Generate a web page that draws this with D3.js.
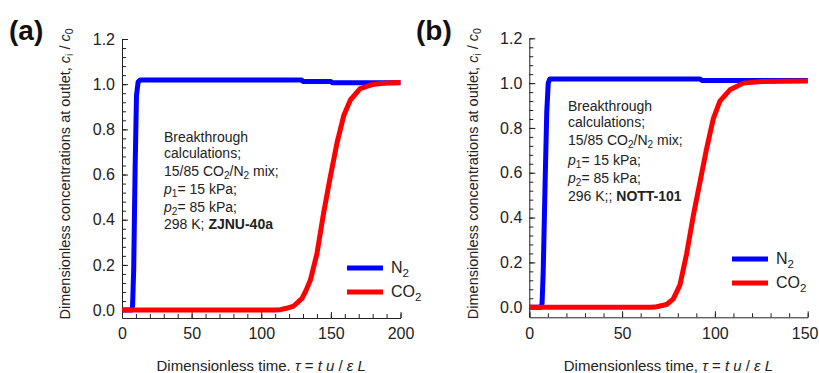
<!DOCTYPE html>
<html><head><meta charset="utf-8">
<script src="https://cdn.jsdelivr.net/npm/d3@7"></script>
<style>
body{margin:0;background:#fff;}
svg{display:block;font-family:"Liberation Sans",Arial,sans-serif;}
</style></head>
<body>
<svg id="chart" width="819" height="373"></svg>
<script>
// ---------- data ----------
const yTicks = [0, 0.2, 0.4, 0.6, 0.8, 1.0, 1.2];
const xTicksA = [0, 50, 100, 150, 200];
const xTicksB = [0, 50, 100, 150];
const seriesNames = ["N2", "CO2"];

// panel (a) ZJNU-40a : [tau, c/c0]
const aN2 = [[0,0],[7,0],[7.6,0.02],[8.4,0.18],[9.4,0.62],[10.4,0.95],[11.6,1.01],[13,1.018],[129,1.018],[130,1.012],[150,1.012],[151,1.006],[200,1.006]];
const aCO2 = [[0,0],[110,0],[113.7,0.002],[118,0.008],[123.3,0.018],[129.3,0.052],[132,0.085],[135.3,0.133],[140,0.25],[144.8,0.43],[149.6,0.59],[154.4,0.74],[159.2,0.86],[164,0.93],[171,0.98],[180.8,1.0],[190,1.005],[200,1.007]];

// panel (b) NOTT-101
const bN2 = [[0,0],[6.5,0],[6.9,0.02],[7.5,0.16],[8.5,0.55],[9.4,0.87],[10.2,1.0],[11,1.018],[92,1.018],[93,1.012],[137,1.012],[150,1.012]];
const bCO2 = [[0,0],[66,0],[68.6,0.002],[74,0.012],[77.6,0.037],[81.2,0.10],[84.8,0.24],[88.4,0.41],[92,0.56],[95.6,0.71],[99.1,0.84],[102.7,0.92],[108.1,0.97],[115.3,1.0],[125,1.007],[150,1.01]];

// ---------- drawing ----------
const svg = d3.select("#chart");
const colors = {N2: "#0000ff", CO2: "#ff0000"};
const textCol = "#222";

function richText(sel, segs, size) {
  segs.forEach(s => {
    if (s.sub) {
      sel.append("tspan").attr("baseline-shift", "-30%").attr("font-size", size * 0.72).text(s.sub);
    } else {
      const t = sel.append("tspan").text(s.t);
      if (s.it) t.attr("font-style", "italic");
      if (s.b) t.attr("font-weight", "bold");
    }
  });
}

function panel(cfg) {
  const g = svg.append("g");
  const x = d3.scaleLinear().domain(cfg.xDomain).range([cfg.x0, cfg.x1]);
  const y = d3.scaleLinear().domain(cfg.yDomain).range([cfg.yBottom, cfg.yTop]);

  // y axis
  const yMinor = d3.range(0, 1.2001, 0.04);
  g.append("g").attr("transform", `translate(${cfg.x0},0)`)
    .call(d3.axisLeft(y).tickValues(yMinor).tickSize(-4).tickSizeOuter(0).tickFormat(""))
    .call(s => s.select(".domain").remove());
  const ya = g.append("g").attr("transform", `translate(${cfg.x0},0)`)
    .call(d3.axisLeft(y).tickValues(yTicks).tickSize(-6).tickSizeOuter(0).tickPadding(7).tickFormat(d3.format(".1f")));
  // x axis
  const xMinor = d3.range(cfg.xDomain[0], cfg.xDomain[1] + 0.001, 10);
  g.append("g").attr("transform", `translate(0,${cfg.yBottom})`)
    .call(d3.axisBottom(x).tickValues(xMinor).tickSize(-4).tickSizeOuter(0).tickFormat(""))
    .call(s => s.select(".domain").remove());
  const xa = g.append("g").attr("transform", `translate(0,${cfg.yBottom})`)
    .call(d3.axisBottom(x).tickValues(cfg.xTicks).tickSize(-6).tickSizeOuter(0).tickPadding(10).tickFormat(d3.format("d")));
  g.selectAll(".domain").attr("stroke", "#222");
  g.selectAll(".tick line").attr("stroke", "#222");
  [ya, xa].forEach(a => a.selectAll("text").attr("font-size", 16).attr("fill", textCol)
      .attr("font-family", "'Liberation Sans',Arial,sans-serif"));
  if (cfg.lastEnd) {
    xa.selectAll(".tick text").filter(d => d === cfg.xDomain[1])
      .attr("text-anchor", "end").attr("x", 818 - cfg.x1);
  }

  // lines
  const line = d3.line().x(d => x(d[0])).y(d => y(d[1]));
  [["N2", cfg.n2], ["CO2", cfg.co2]].forEach(([k, data]) => {
    g.append("path").datum(data).attr("d", line).attr("fill", "none")
      .attr("stroke", colors[k]).attr("stroke-width", 5).attr("stroke-linejoin", "round");
  });

  // legend
  const leg = [
    {k: "N2", segs: [{t: "N"}, {sub: "2"}]},
    {k: "CO2", segs: [{t: "CO"}, {sub: "2"}]}
  ];
  leg.forEach((l, i) => {
    const ly = cfg.legY + i * 24;
    g.append("line").attr("x1", cfg.legX).attr("x2", cfg.legX + 36).attr("y1", ly).attr("y2", ly)
      .attr("stroke", colors[l.k]).attr("stroke-width", 5);
    const t = g.append("text").attr("x", cfg.legX + 44).attr("y", ly + 5).attr("font-size", 16).attr("fill", textCol);
    richText(t, l.segs, 16);
  });

  // annotation
  cfg.note.forEach((segs, i) => {
    const t = g.append("text").attr("x", cfg.noteX).attr("y", cfg.noteY[i]).attr("font-size", 14).attr("fill", textCol);
    richText(t, segs, 14);
  });

  // y label
  const yl = g.append("text").attr("transform", `translate(${cfg.yLabX},${(cfg.yBottom + 30) / 2}) rotate(-90)`)
    .attr("text-anchor", "middle").attr("font-size", 14.5).attr("fill", textCol);
  richText(yl, [{t: "Dimensionless concentrations at outlet, "}, {t: "c", it: 1}, {sub: "i"}, {t: " / "}, {t: "c", it: 1}, {sub: "0"}], 14.5);

  // x label
  const xl = g.append("text").attr("x", (cfg.x0 + cfg.x1) / 2 + cfg.xLabDx).attr("y", 371)
    .attr("text-anchor", "middle").attr("font-size", 15).attr("fill", textCol);
  richText(xl, [{t: cfg.xLabPre}, {t: "τ", it: 1}, {t: " = "}, {t: "t u", it: 1}, {t: " / "}, {t: "ε L", it: 1}], 15);

  // panel tag
  svg.append("text").attr("x", cfg.tagX).attr("y", 40).attr("font-size", 28).attr("font-weight", "bold")
    .attr("fill", "#111").text(cfg.tag);
}

panel({
  tag: "(a)", tagX: 9,
  xDomain: [0, 200], xTicks: xTicksA, x0: 122, x1: 400.5,
  yDomain: [-0.035, 1.2], yBottom: 318, yTop: 39,
  n2: aN2, co2: aCO2,
  legX: 347, legY: 268,
  noteX: 164, noteY: [142, 158, 176, 194, 212, 229],
  note: [
    [{t: "Breakthrough"}],
    [{t: "calculations;"}],
    [{t: "15/85 CO"}, {sub: "2"}, {t: "/N"}, {sub: "2"}, {t: " mix;"}],
    [{t: "p", it: 1}, {sub: "1"}, {t: "= 15 kPa;"}],
    [{t: "p", it: 1}, {sub: "2"}, {t: "= 85 kPa;"}],
    [{t: "298 K; "}, {t: "ZJNU-40a", b: 1}]
  ],
  yLabX: 70, xLabPre: "Dimensionless time. ", xLabDx: 0, lastEnd: false
});

panel({
  tag: "(b)", tagX: 416,
  xDomain: [0, 150], xTicks: xTicksB, x0: 529.3, x1: 807.7,
  yDomain: [-0.045, 1.2], yBottom: 317.3, yTop: 38.3,
  n2: bN2, co2: bCO2,
  legX: 732, legY: 259,
  noteX: 568, noteY: [111, 127, 145, 165, 183, 201],
  note: [
    [{t: "Breakthrough"}],
    [{t: "calculations;"}],
    [{t: "15/85 CO"}, {sub: "2"}, {t: "/N"}, {sub: "2"}, {t: " mix;"}],
    [{t: "p", it: 1}, {sub: "1"}, {t: "= 15 kPa;"}],
    [{t: "p", it: 1}, {sub: "2"}, {t: "= 85 kPa;"}],
    [{t: "296 K;; "}, {t: "NOTT-101", b: 1}]
  ],
  yLabX: 478, xLabPre: "Dimensionless time, ", xLabDx: 0, lastEnd: true
});
</script>
</body></html>
